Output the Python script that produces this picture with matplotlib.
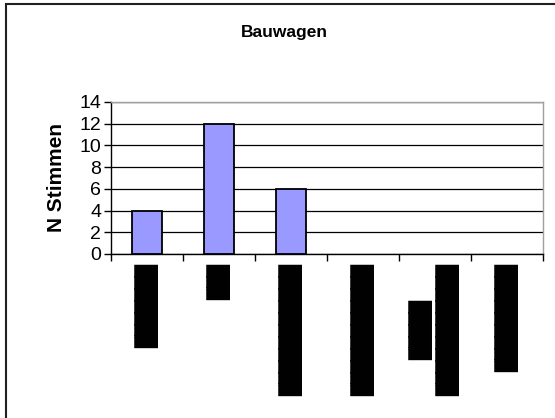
import matplotlib
matplotlib.use("Agg")
import matplotlib.pyplot as plt
import matplotlib.patches as patches

# data
categories = ["█" * 7, "█" * 3, "█" * 11, "█" * 11, "█" * 5 + "\n" + "█" * 11, "█" * 9]
votes = [4, 12, 6, 0, 0, 0]
yticks = [0, 2, 4, 6, 8, 10, 12, 14]

fig = plt.figure(figsize=(5.55, 4.18), dpi=100)
ax = fig.add_axes([111 / 555, 1 - 254 / 418, 432 / 555, 152 / 418])

x = list(range(len(votes)))
bars = ax.bar(x, votes, width=0.42, color="#9999ff", edgecolor="black", linewidth=1.3, zorder=3)
# empty categories get no bar outline
for b, v in zip(bars, votes):
    if v == 0:
        b.set_linewidth(0)

ax.set_xlim(-0.5, len(votes) - 0.5)
ax.set_ylim(0, 14)
ax.set_yticks(yticks)
ax.yaxis.grid(True, color="black", linewidth=0.9, zorder=0)

# tick marks at category borders, labels in the middle
ax.set_xticks([i - 0.5 for i in range(len(votes) + 1)])
ax.set_xticklabels([])
ax.set_xticks(x, minor=True)
ax.set_xticklabels(categories, minor=True, rotation=90, ha="center", va="top",
                   family="DejaVu Sans Mono", fontsize=14.4, multialignment="center",
                   linespacing=1.2)
ax.tick_params(axis="x", which="major", length=5, width=1, direction="out", color="black")
ax.tick_params(axis="x", which="minor", length=0, pad=7)
ax.tick_params(axis="y", length=5, width=1, direction="out", labelsize=14, pad=2)
for lab in ax.get_yticklabels():
    lab.set_family("Liberation Sans")

ax.spines["left"].set_color("black")
ax.spines["bottom"].set_color("black")
ax.spines["top"].set_color("#a0a0a0")
ax.spines["right"].set_color("#a0a0a0")
for s in ax.spines.values():
    s.set_linewidth(1)

ax.set_ylabel("N Stimmen", family="Liberation Sans", fontweight="bold", fontsize=15, labelpad=10)

fig.text(284 / 555, 1 - 33 / 418, "Bauwagen", ha="center", va="center",
         family="Liberation Sans", fontweight="bold", fontsize=12.5)

# chart frame (right and bottom edge lie outside the picture)
fig.patches.append(patches.Rectangle((6 / 555, -0.1), 1.2, 1 - 4 / 418 + 0.1,
                                     transform=fig.transFigure, fill=False,
                                     edgecolor="#202020", linewidth=1.5))

fig.savefig("out.png", dpi=100)
